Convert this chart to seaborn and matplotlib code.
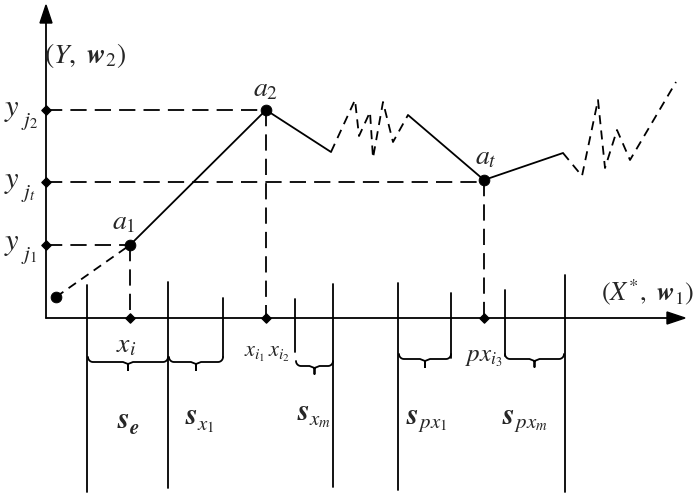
import numpy as np
import pandas as pd
import matplotlib.pyplot as plt
import seaborn as sns
from matplotlib.patches import Polygon

sns.set_style("white")
plt.rcParams['font.family'] = ['Liberation Serif', 'DejaVu Serif']
plt.rcParams['mathtext.fontset'] = 'stix'

# diagram coordinates (pixel-like units, y grows downward)
origin = (46, 318)
x_end = 685
y_end = 5

# key points of the trajectory
pts_x = [56, 130, 266, 484]
pts_y = [297, 245, 110, 180]
pt_names = [None, '$a_1$', '$a_2$', '$a_t$']

# solid segments of the path
solid_paths = [
    ([130, 266, 331], [245, 110, 152]),
    ([408, 484, 563], [115, 180, 153]),
]
# dashed pieces of the path
dashed_paths = [
    ([56, 130], [297, 245]),
    ([331, 355, 359, 370, 373, 383, 393, 408], [152, 100, 136, 112, 158, 102, 142, 115]),
    ([563, 582, 598, 605, 617, 630, 676], [153, 176, 100, 168, 130, 160, 82]),
]

# projections
y_levels = [110, 182, 245]
y_subs = ['$j_2$', '$j_t$', '$j_1$']
y_reach = [266, 484, 130]
x_marks = [130, 266, 484]
x_marks_top = [245, 110, 180]

# partition lines (x, top, bottom)
part_full = [(87, 285, 492), (168, 282, 488), (333, 284, 487), (398, 283, 490), (565, 275, 492)]
part_short = [(223, 298, 357), (295, 299, 352), (451, 293, 358), (505, 290, 356)]

# braces (x0, x1, y)
braces = [(88, 168, 362), (169, 223, 362), (296, 333, 366), (399, 451, 359), (505, 564, 359)]

s_subs = [r'$\boldsymbol{e}$', '$x_1$', '$x_m$', '$px_1$', '$px_m$']
s_pos = [(117, 420), (185, 417), (297, 412), (406, 416), (502, 416)]


def brace(x0, x1, y, r=5, tip=8):
    xm = (x0 + x1) / 2
    t = np.linspace(0, np.pi / 2, 12)
    # curls going up into the arms
    lx = x0 + r - r * np.cos(t)
    ly = y - r + r * np.sin(t)
    rx = x1 - r + r * np.cos(t[::-1])
    ry = y - r + r * np.sin(t[::-1])
    bx = np.concatenate([lx, [xm - r, xm, xm, xm, xm + r], rx])
    by = np.concatenate([ly, [y, y + 2, y + tip, y + 2, y], ry])
    return bx, by


def sub_label(ax, x, y, main, sub, fs_main, fs_sub, dx, dy):
    ax.text(x, y, main, fontsize=fs_main, ha='left', va='center')
    ax.text(x + dx, y + dy, sub, fontsize=fs_sub, ha='left', va='center')


fig = plt.figure(figsize=(6.95, 4.96), dpi=100)
ax = fig.add_axes([0, 0, 1, 1])
ax.set_xlim(0, 695)
ax.set_ylim(496, 0)
ax.axis('off')

lw = 1.3
# axes with arrows
ax.plot([origin[0], origin[0]], [origin[1], y_end + 14], color='black', lw=lw)
ax.plot([origin[0], x_end - 14], [origin[1], origin[1]], color='black', lw=lw)
ax.add_patch(Polygon([[origin[0], y_end], [origin[0] - 6, y_end + 18], [origin[0] + 6, y_end + 18]],
                     closed=True, color='black'))
ax.add_patch(Polygon([[x_end, origin[1]], [x_end - 18, origin[1] - 6], [x_end - 18, origin[1] + 6]],
                     closed=True, color='black'))

# projection lines
for yl, xr in zip(y_levels, y_reach):
    ax.plot([origin[0], xr], [yl, yl], color='black', lw=lw, dashes=(9, 4.5))
for xm, yt in zip(x_marks, x_marks_top):
    ax.plot([xm, xm], [yt, origin[1]], color='black', lw=lw, dashes=(9, 4.5))

# path
for xs, ys in solid_paths:
    df = pd.DataFrame({'x': xs, 'y': ys})
    sns.lineplot(data=df, x='x', y='y', sort=False, color='black', lw=lw, ax=ax, estimator=None)
for xs, ys in dashed_paths:
    ax.plot(xs, ys, color='black', lw=lw, dashes=(5, 3.5))

sns.scatterplot(x=pts_x, y=pts_y, color='black', s=60, edgecolor='black', ax=ax, zorder=5)

# diamonds on axes
ax.scatter([origin[0]] * len(y_levels), y_levels, marker='D', s=22, color='black', zorder=5)
ax.scatter(x_marks, [origin[1]] * len(x_marks), marker='D', s=22, color='black', zorder=5)

# partitions
for x, t, b in part_full:
    ax.plot([x, x], [t, b], color='black', lw=lw)
for x, t, b in part_short:
    ax.plot([x, x], [t, b], color='black', lw=lw)
for x0, x1, y in braces:
    bx, by = brace(x0, x1, y)
    ax.plot(bx, by, color='black', lw=lw)

# labels
fs = 20
ax.text(44, 55, r'$(Y,\ \boldsymbol{w}_2)$', fontsize=fs, va='center', ha='left')
ax.text(601, 292, r'$(X^{*},\ \boldsymbol{w}_1)$', fontsize=19, va='center', ha='left')
offs = {'$a_1$': (-6, -22), '$a_2$': (0, -20), '$a_t$': (2, -22)}
for x, y, n in zip(pts_x, pts_y, pt_names):
    if n:
        dx, dy = offs[n]
        ax.text(x + dx, y + dy, n, fontsize=fs, ha='center', va='center')
for yl, sub in zip(y_levels, y_subs):
    sub_label(ax, 4, yl - 1, '$y$', sub, 22, 15, 17, 12)
ax.text(126, 346, '$x_i$', fontsize=fs, ha='center', va='center')
ax.text(267, 354, '$x_{i_1}\\,x_{i_2}$', fontsize=16, ha='center', va='center')
ax.text(484, 358, '$px_{i_3}$', fontsize=18, ha='center', va='center')
for sub, (x, y) in zip(s_subs, s_pos):
    sub_label(ax, x, y, r'$\boldsymbol{s}$', sub, 22, 15, 12, 9)

plt.savefig('out.png', dpi=100)
